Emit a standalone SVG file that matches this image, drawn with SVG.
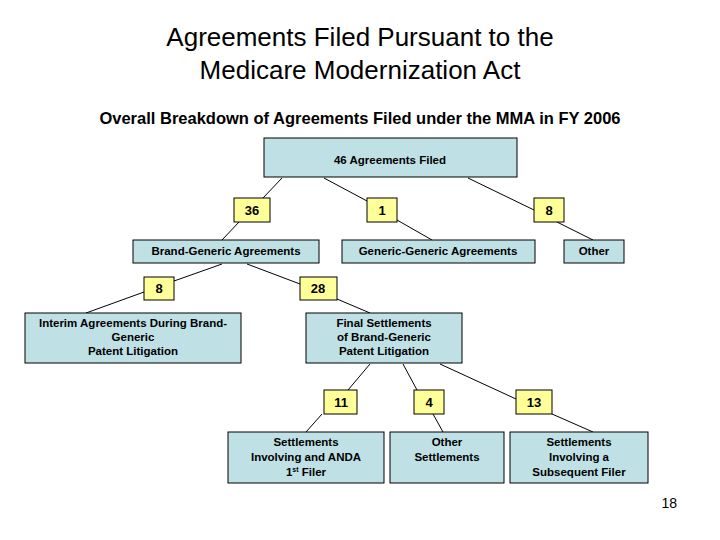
<svg xmlns="http://www.w3.org/2000/svg" width="720" height="540" viewBox="0 0 720 540">
<style>
.b{fill:#bfe0e4;stroke:#000;stroke-width:1}
.y{fill:#ffff99;stroke:#000;stroke-width:1}
.t{font-family:"Liberation Sans",Arial,sans-serif;font-size:11.5px;font-weight:bold;text-anchor:middle;fill:#000}
.n{font-family:"Liberation Sans",Arial,sans-serif;font-size:13px;font-weight:bold;text-anchor:middle;fill:#000}
line{stroke:#000;stroke-width:1}
</style>
<rect width="720" height="540" fill="#fff"/>
<text x="360" y="46" font-family="Liberation Sans,Arial,sans-serif" font-size="26" text-anchor="middle">Agreements Filed Pursuant to the</text>
<text x="360" y="79" font-family="Liberation Sans,Arial,sans-serif" font-size="26" text-anchor="middle">Medicare Modernization Act</text>
<text x="360" y="124" font-family="Liberation Sans,Arial,sans-serif" font-size="16.5" font-weight="bold" text-anchor="middle">Overall Breakdown of Agreements Filed under the MMA in FY 2006</text>
<g id="connectors">
<line x1="282" y1="178" x2="263" y2="198"/>
<line x1="239" y1="222" x2="222" y2="240"/>
<line x1="324" y1="178" x2="367" y2="201"/>
<line x1="397" y1="220" x2="432" y2="240"/>
<line x1="468" y1="178" x2="534" y2="210"/>
<line x1="557" y1="222" x2="593" y2="240"/>
<line x1="222" y1="264" x2="174" y2="281"/>
<line x1="144" y1="292" x2="86" y2="313"/>
<line x1="247" y1="264" x2="300" y2="284"/>
<line x1="337" y1="299" x2="370" y2="313"/>
<line x1="370" y1="364" x2="348" y2="390"/>
<line x1="403" y1="364" x2="417" y2="390"/>
<line x1="440" y1="364" x2="516" y2="399"/>
<line x1="322" y1="414" x2="306" y2="432"/>
<line x1="433" y1="414" x2="443" y2="432"/>
<line x1="552" y1="414" x2="593" y2="432"/>
</g>
<g id="n-top"><rect class="b" x="264" y="138" width="253" height="39"/><text class="t" x="390" y="164">46 Agreements Filed</text></g>
<g id="c36"><rect class="y" x="234" y="198" width="36" height="24"/><text class="n" x="252" y="215">36</text></g>
<g id="c1"><rect class="y" x="367" y="198" width="30" height="24"/><text class="n" x="382" y="215">1</text></g>
<g id="c8a"><rect class="y" x="534" y="198" width="30" height="24"/><text class="n" x="549" y="215">8</text></g>
<g id="n-bg"><rect class="b" x="133" y="240" width="186" height="23"/><text class="t" x="226" y="255">Brand-Generic Agreements</text></g>
<g id="n-gg"><rect class="b" x="342" y="240" width="193" height="23"/><text class="t" x="438" y="255">Generic-Generic Agreements</text></g>
<g id="n-other"><rect class="b" x="564" y="240" width="60" height="23"/><text class="t" x="594" y="255">Other</text></g>
<g id="c8b"><rect class="y" x="144" y="277" width="30" height="23"/><text class="n" x="159" y="293">8</text></g>
<g id="c28"><rect class="y" x="300" y="277" width="37" height="23"/><text class="n" x="318" y="293">28</text></g>
<g id="n-interim"><rect class="b" x="25" y="313" width="216" height="50"/><text class="t" x="133" y="327">Interim Agreements During Brand-</text><text class="t" x="133" y="341">Generic</text><text class="t" x="133" y="355">Patent Litigation</text></g>
<g id="n-final"><rect class="b" x="306" y="313" width="156" height="50"/><text class="t" x="384" y="327">Final Settlements</text><text class="t" x="384" y="341">of Brand-Generic</text><text class="t" x="384" y="355">Patent Litigation</text></g>
<g id="c11"><rect class="y" x="324" y="390" width="33" height="24"/><text class="n" x="341" y="407">11</text></g>
<g id="c4"><rect class="y" x="414" y="390" width="30" height="24"/><text class="n" x="429" y="407">4</text></g>
<g id="c13"><rect class="y" x="516" y="390" width="36" height="24"/><text class="n" x="534" y="407">13</text></g>
<g id="n-anda"><rect class="b" x="228" y="432" width="156" height="51"/><text class="t" x="306" y="446">Settlements</text><text class="t" x="306" y="461">Involving and ANDA</text><text class="t" x="306" y="476">1<tspan font-size="7" dy="-4">st</tspan><tspan dy="4"> Filer</tspan></text></g>
<g id="n-othset"><rect class="b" x="390" y="432" width="114" height="51"/><text class="t" x="447" y="446">Other</text><text class="t" x="447" y="461">Settlements</text></g>
<g id="n-subseq"><rect class="b" x="510" y="432" width="138" height="51"/><text class="t" x="579" y="446">Settlements</text><text class="t" x="579" y="461">Involving a</text><text class="t" x="579" y="476">Subsequent Filer</text></g>
<text x="677" y="508" font-family="Liberation Sans,Arial,sans-serif" font-size="14" text-anchor="end">18</text>
</svg>
